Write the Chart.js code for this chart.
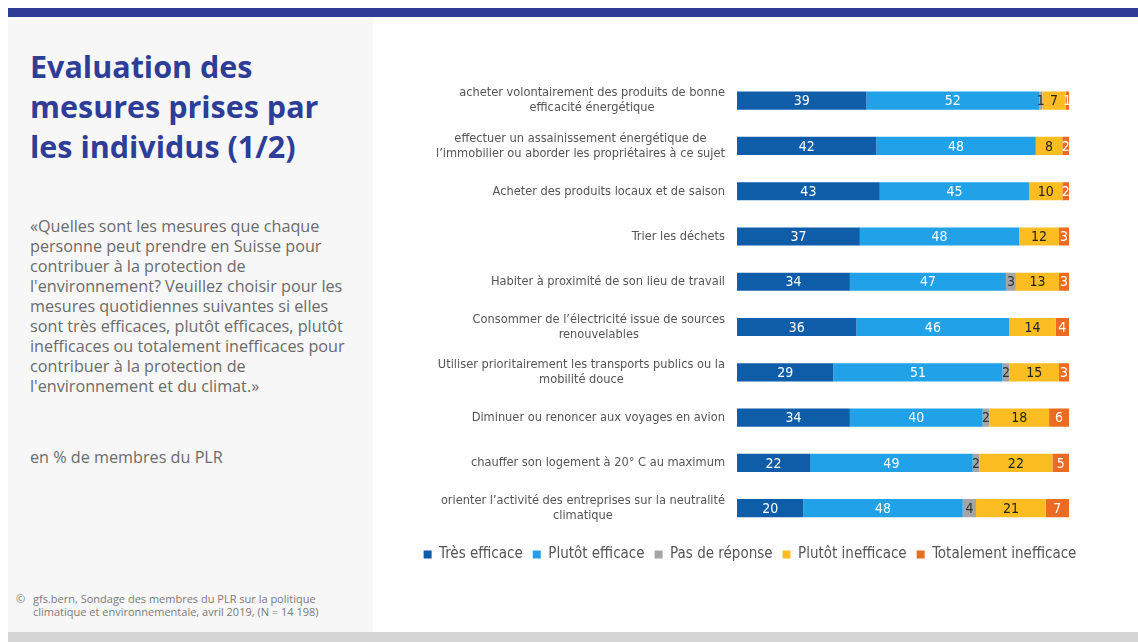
<!DOCTYPE html>
<html lang="fr">
<head>
<meta charset="utf-8">
<script src="https://cdn.jsdelivr.net/npm/chart.js@4/dist/chart.umd.min.js"></script>
<style>
    html, body { margin: 0; padding: 0; background: #fff; }
    body { width: 1138px; height: 642px; position: relative; overflow: hidden; font-family: "Open Sans", sans-serif; }
    .band { position: absolute; left: 8px; top: 8px; width: 1130px; height: 9px; background: #2f3c97; }
    .footer-band { position: absolute; left: 8px; top: 632px; width: 1130px; height: 10px; background: #d6d6d6; }
    .side { position: absolute; left: 8px; top: 17px; width: 365px; height: 615px; background: #f7f7f7; }
    h1 { position: absolute; left: 30px; top: 46px; margin: 0; font-size: 30.5px; line-height: 40px; font-weight: 700; color: #2e3d98; }
    .question { position: absolute; left: 30px; top: 216px; margin: 0; font-size: 16.2px; line-height: 20px; color: #6b6b6b; }
    .unit { position: absolute; left: 30px; top: 446px; margin: 0; font-size: 16.2px; color: #6b6b6b; }
    .source { position: absolute; left: 16px; top: 592px; margin: 0; font-size: 11px; line-height: 13px; color: #7a7a7a; }
    .source span { display: inline-block; width: 17px; }
    #chart-wrap { position: absolute; left: 380px; top: 17px; width: 740px; height: 615px; }
</style>
</head>
<body>
<div class="band"></div>
<div class="side"></div>
<div class="footer-band"></div>

<h1>Evaluation des<br>mesures prises par<br>les individus (1/2)</h1>

<p class="question">«Quelles sont les mesures que chaque<br>personne peut prendre en Suisse pour<br>contribuer à la protection de<br>l'environnement? Veuillez choisir pour les<br>mesures quotidiennes suivantes si elles<br>sont très efficaces, plutôt efficaces, plutôt<br>inefficaces ou totalement inefficaces pour<br>contribuer à la protection de<br>l'environnement et du climat.»</p>

<p class="unit">en % de membres du PLR</p>

<p class="source"><span>©</span>gfs.bern, Sondage des membres du PLR sur la politique<br><span></span>climatique et environnementale, avril 2019, (N = 14 198)</p>

<div id="chart-wrap"><canvas id="chart" width="740" height="615"></canvas></div>

<script>
const measures = [
    ['acheter volontairement des produits de bonne', 'efficacité énergétique'],
    ['effectuer un assainissement énergétique de', 'l’immobilier ou aborder les propriétaires à ce sujet'],
    ['Acheter des produits locaux et de saison'],
    ['Trier les déchets'],
    ['Habiter à proximité de son lieu de travail'],
    ['Consommer de l’électricité issue de sources', 'renouvelables'],
    ['Utiliser prioritairement les transports publics ou la', 'mobilité douce'],
    ['Diminuer ou renoncer aux voyages en avion'],
    ['chauffer son logement à 20° C au maximum'],
    ['orienter l’activité des entreprises sur la neutralité', 'climatique']
];

const tresEfficace = [39, 42, 43, 37, 34, 36, 29, 34, 22, 20];
const plutotEfficace = [52, 48, 45, 48, 47, 46, 51, 40, 49, 48];
const pasDeReponse = [1, 0, 0, 0, 3, 0, 2, 2, 2, 4];
const plutotInefficace = [7, 8, 10, 12, 13, 14, 15, 18, 22, 21];
const totalementInefficace = [1, 2, 2, 3, 3, 4, 3, 6, 5, 7];

const narrowFont = '"DejaVu Sans Condensed", "DejaVu Sans", sans-serif';

// value printed in the middle of each segment
const segmentValues = {
    id: 'segmentValues',
    afterDatasetsDraw(chart) {
        const ctx = chart.ctx;
        ctx.save();
        ctx.font = '14px ' + narrowFont;
        ctx.textAlign = 'center';
        ctx.textBaseline = 'middle';
        chart.data.datasets.forEach((ds, di) => {
            const meta = chart.getDatasetMeta(di);
            meta.data.forEach((bar, i) => {
                const v = ds.data[i];
                if (!v) return;
                const p = bar.getProps(['x', 'y', 'base'], true);
                ctx.fillStyle = ds.valueColor;
                ctx.fillText(String(v), (p.x + p.base) / 2, p.y + 1);
            });
        });
        ctx.restore();
    }
};

// category labels: block right-aligned against the bars, lines centred within it
const categoryLabels = {
    id: 'categoryLabels',
    afterDraw(chart) {
        const ctx = chart.ctx;
        const yScale = chart.scales.y;
        const right = chart.chartArea.left - 12;
        ctx.save();
        ctx.font = '12.7px ' + narrowFont;
        ctx.fillStyle = '#555';
        ctx.textAlign = 'center';
        ctx.textBaseline = 'middle';
        measures.forEach((lines, i) => {
            const y = yScale.getPixelForValue(i);
            const w = Math.max(...lines.map(l => ctx.measureText(l).width));
            const cx = right - w / 2;
            const lh = 15;
            const y0 = y - (lines.length - 1) * lh / 2;
            lines.forEach((l, k) => ctx.fillText(l, cx, y0 + k * lh));
        });
        ctx.restore();
    }
};

function series(label, data, color, valueColor) {
    return {
        label: label,
        data: data,
        backgroundColor: color,
        borderWidth: 0,
        valueColor: valueColor,
        barPercentage: 1,
        categoryPercentage: 0.4
    };
}

// empty side axes only reserve room left and right of the bars
function spacer(position, width) {
    return {
        position: position,
        stacked: true,
        grid: { display: false },
        border: { display: false },
        ticks: { display: false },
        afterFit(scale) { scale.width = width; }
    };
}

new Chart(document.getElementById('chart'), {
    type: 'bar',
    data: {
        labels: measures.map(m => m.join(' ')),
        datasets: [
            series('Très efficace', tresEfficace, '#0f5da9', '#ffffff'),
            series('Plutôt efficace', plutotEfficace, '#21a1e8', '#ffffff'),
            series('Pas de réponse', pasDeReponse, '#a5a5a5', '#333333'),
            series('Plutôt inefficace', plutotInefficace, '#fbbd22', '#222222'),
            series('Totalement inefficace', totalementInefficace, '#eb6b23', '#ffffff')
        ]
    },
    options: {
        indexAxis: 'y',
        responsive: false,
        animation: false,
        layout: {
            padding: { left: 0, right: 0, top: 61, bottom: 60 }
        },
        scales: {
            x: { stacked: true, min: 0, max: 100, display: false },
            y: spacer('left', 357),
            yRight: spacer('right', 51)
        },
        plugins: {
            tooltip: { enabled: false },
            legend: {
                position: 'bottom',
                // empty title just adds a little space above the legend row
                title: { display: true, text: ' ', font: { size: 1 }, padding: { top: 0, bottom: 5 } },
                labels: {
                    boxWidth: 8,
                    boxHeight: 8,
                    padding: 10,
                    color: '#555',
                    font: { size: 15, family: narrowFont }
                }
            }
        }
    },
    plugins: [segmentValues, categoryLabels]
});
</script>
</body>
</html>
